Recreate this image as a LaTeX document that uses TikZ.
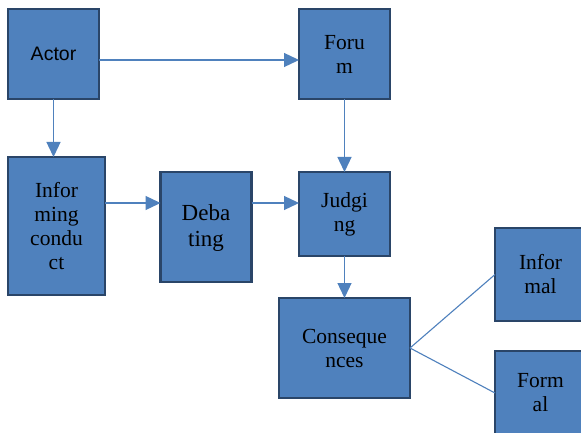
\documentclass[tikz,border=0pt]{standalone}
\usepackage{fontspec}
\setmainfont{Liberation Serif}
\newfontfamily\arialfont{Liberation Sans}
\usetikzlibrary{arrows.meta}
\definecolor{boxfill}{HTML}{4F81BD}
\definecolor{boxline}{HTML}{2A4568}
\definecolor{linkblue}{HTML}{4F81BD}
\tikzset{
  x=1pt, y=-1pt,
  stage/.style={draw=boxline, fill=boxfill, line width=2.4pt, inner sep=0pt, outer sep=0pt,
    align=center, font=\fontsize{21.5}{24}\selectfont, text=black},
  arr/.style={draw=linkblue, line width=1.3pt, -{Triangle[length=15pt,width=14pt]}},
  link/.style={draw=linkblue, line width=1.1pt}
}
\begin{document}
\begin{tikzpicture}
\useasboundingbox (0,0) rectangle (581,433);
\clip (0,0) rectangle (581,433);
\fill[white] (0,0) rectangle (581,433);

% stages (positions given as pixel-style coordinates)
\node[stage, minimum width=91pt, minimum height=90pt, font=\arialfont\fontsize{19.5}{24}\selectfont] (actor) at (53.5,54) {Actor};
\node[stage, minimum width=91pt, minimum height=90pt] (forum) at (344.5,54) {Foru\\m};
\node[stage, minimum width=97pt, minimum height=138pt] (inf) at (56.5,226) {Infor\\ming\\condu\\ct};
\node[stage, minimum width=91pt, minimum height=110pt, font=\fontsize{23}{26}\selectfont] (deb) at (206,227) {\rule{0pt}{18pt}Deba\\ting};
\node[stage, minimum width=91pt, minimum height=84pt] (judg) at (344.5,214) {Judgi\\ng};
\node[stage, minimum width=131pt, minimum height=100pt] (cons) at (344.5,348) {Conseque\\nces};
\node[stage, minimum width=91pt, minimum height=93pt] (informal) at (540.5,274.5) {Infor\\mal};
\node[stage, minimum width=91pt, minimum height=84pt] (formal) at (540.5,393) {Form\\al};

% connectors
\draw[arr] ([yshift=-6pt]actor.east) -- ([yshift=-6pt]actor.east -| forum.west);
\draw[arr] (actor.south) -- (actor.south |- inf.north);
\draw[arr] (forum.south) -- (judg.north);
\draw[arr] ([yshift=23pt]inf.east) -- ([yshift=23pt]inf.east -| deb.west);
\draw[arr] ([yshift=24pt]deb.east) -- ([yshift=24pt]deb.east -| judg.west);
\draw[arr] (judg.south) -- (cons.north);
\draw[link] (cons.east) -- (informal.west);
\draw[link] (cons.east) -- (formal.west);
\end{tikzpicture}
\end{document}
